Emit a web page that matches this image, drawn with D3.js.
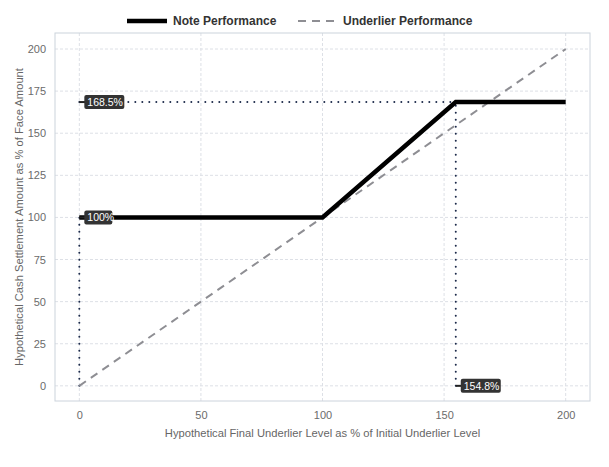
<!DOCTYPE html>
<html>
<head>
<meta charset="utf-8">
<script src="https://cdn.jsdelivr.net/npm/d3@7"></script>
<style>
	body { margin: 0; background: #fff; }
	svg text { font-family: "Liberation Sans", Arial, sans-serif; }
</style>
</head>
<body>
<div id="chart"></div>
<script>
// chart data
var underlierLevels = [0, 100, 154.8, 200];
var notePayoff = [100, 100, 168.5, 168.5];
var underlierLine = [0, 200];
var capLevel = 154.8, capPayoff = 168.5;
var xTicks = [0, 50, 100, 150, 200];
var yTicks = [0, 25, 50, 75, 100, 125, 150, 175, 200];
var labels = [
	{x: 0, y: 168.5, text: "168.5%"},
	{x: 0, y: 100, text: "100%"},
	{x: 154.8, y: 0, text: "154.8%"}
];

var w = 609, h = 467,
	margin = {top: 33, right: 19, bottom: 66, left: 55};

var svg = d3.select("#chart").append("svg")
	.attr("width", w)
	.attr("height", h);

var x = d3.scaleLinear().domain([-10, 210]).range([margin.left, w - margin.right]);
var y = d3.scaleLinear().domain([-9, 209.5]).range([h - margin.bottom, margin.top]);

// grid
svg.append("g").selectAll("line")
	.data(xTicks).enter().append("line")
	.attr("x1", function(d){ return x(d); })
	.attr("x2", function(d){ return x(d); })
	.attr("y1", margin.top)
	.attr("y2", h - margin.bottom)
	.attr("stroke", "#dde0e6")
	.attr("stroke-dasharray", "3,2");

svg.append("g").selectAll("line")
	.data(yTicks).enter().append("line")
	.attr("y1", function(d){ return y(d); })
	.attr("y2", function(d){ return y(d); })
	.attr("x1", margin.left)
	.attr("x2", w - margin.right)
	.attr("stroke", "#dde0e6")
	.attr("stroke-dasharray", "3,2");

// panel border
svg.append("rect")
	.attr("x", margin.left)
	.attr("y", margin.top)
	.attr("width", w - margin.left - margin.right)
	.attr("height", h - margin.top - margin.bottom)
	.attr("fill", "none")
	.attr("stroke", "#ccd3dc");

// axes
var xAxis = svg.append("g")
	.attr("transform", "translate(0," + (h - margin.bottom) + ")")
	.call(d3.axisBottom(x).tickValues(xTicks).tickSize(0).tickPadding(10));
var yAxis = svg.append("g")
	.attr("transform", "translate(" + margin.left + ",0)")
	.call(d3.axisLeft(y).tickValues(yTicks).tickSize(0).tickPadding(9));
[xAxis, yAxis].forEach(function(a){
	a.select(".domain").remove();
	a.selectAll("text")
		.attr("font-size", "11px")
		.attr("fill", "#6b6b6b");
});

svg.append("text")
	.text("Hypothetical Final Underlier Level as % of Initial Underlier Level")
	.attr("x", x(100))
	.attr("y", 437)
	.attr("text-anchor", "middle")
	.attr("font-size", "11.2px")
	.attr("fill", "#666");

svg.append("text")
	.text("Hypothetical Cash Settlement Amount as % of Face Amount")
	.attr("transform", "translate(23," + ((margin.top + h - margin.bottom) / 2) + ") rotate(-90)")
	.attr("text-anchor", "middle")
	.attr("font-size", "11.2px")
	.attr("fill", "#666");

// reference dotted lines
var dots = [
	[[0, capPayoff], [capLevel, capPayoff]],
	[[capLevel, 0], [capLevel, capPayoff]],
	[[0, 0], [0, 100]]
];
var line = d3.line()
	.x(function(d){ return x(d[0]); })
	.y(function(d){ return y(d[1]); });

svg.append("g").selectAll("path")
	.data(dots).enter().append("path")
	.attr("d", line)
	.attr("fill", "none")
	.attr("stroke", "#1c2a4a")
	.attr("stroke-width", 2)
	.attr("stroke-linecap", "round")
	.attr("stroke-dasharray", "0,7");

// underlier performance
svg.append("path")
	.datum(underlierLine.map(function(d){ return [d, d]; }))
	.attr("d", line)
	.attr("fill", "none")
	.attr("stroke", "#8e8e93")
	.attr("stroke-width", 2)
	.attr("stroke-dasharray", "8,6");

// note performance
svg.append("path")
	.datum(underlierLevels.map(function(d, i){ return [d, notePayoff[i]]; }))
	.attr("d", line)
	.attr("fill", "none")
	.attr("stroke", "#000")
	.attr("stroke-width", 4.5)
	.attr("stroke-linejoin", "miter");

// value labels
var lab = svg.append("g").selectAll("g")
	.data(labels).enter().append("g")
	.attr("transform", function(d){ return "translate(" + x(d.x) + "," + y(d.y) + ")"; });

lab.append("line")
	.attr("x1", 0).attr("x2", 7)
	.attr("stroke", "#222")
	.attr("stroke-width", 2);

lab.append("rect")
	.attr("x", 5)
	.attr("y", -7)
	.attr("rx", 2)
	.attr("height", 14)
	.attr("width", function(d){ return d.text.length * 6 + 4; })
	.attr("fill", "#333");

lab.append("text")
	.text(function(d){ return d.text; })
	.attr("x", 8)
	.attr("y", 4)
	.attr("font-size", "10.5px")
	.attr("fill", "#fff");

// legend
var leg = svg.append("g");
leg.append("line")
	.attr("x1", 127).attr("x2", 167).attr("y1", 21).attr("y2", 21)
	.attr("stroke", "#000").attr("stroke-width", 4.5);
leg.append("text").text("Note Performance")
	.attr("x", 173).attr("y", 25)
	.attr("font-size", "12px").attr("font-weight", "bold").attr("fill", "#333");
leg.append("line")
	.attr("x1", 298).attr("x2", 334).attr("y1", 21).attr("y2", 21)
	.attr("stroke", "#8e8e93").attr("stroke-width", 2).attr("stroke-dasharray", "8,6");
leg.append("text").text("Underlier Performance")
	.attr("x", 343).attr("y", 25)
	.attr("font-size", "12px").attr("font-weight", "bold").attr("fill", "#333");
</script>
</body>
</html>
